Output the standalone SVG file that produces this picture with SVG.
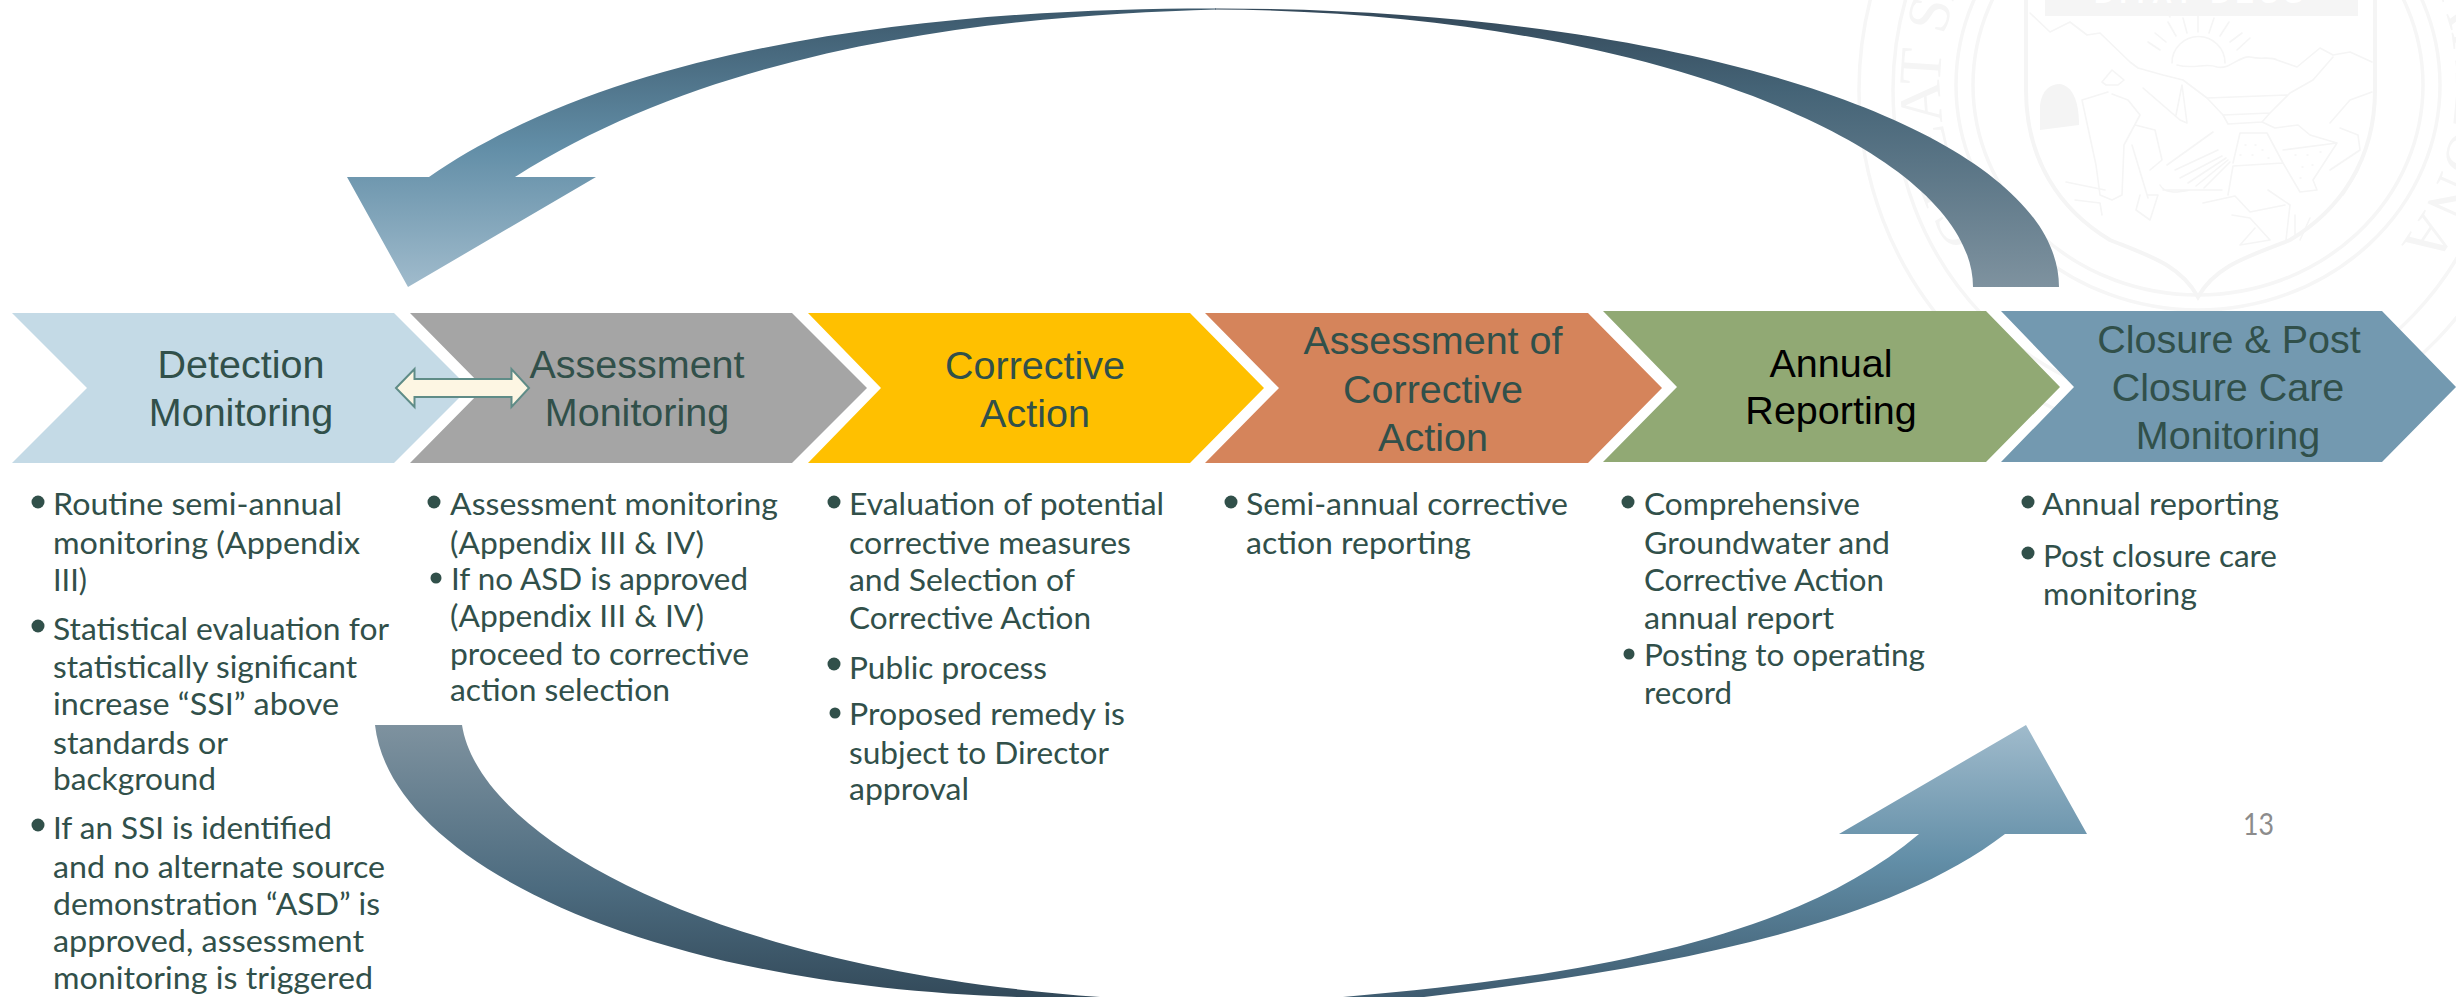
<svg xmlns="http://www.w3.org/2000/svg" width="2456" height="997" viewBox="0 0 2456 997">
<style>
.b{font-family:"Lato","Open Sans",sans-serif;font-size:31px;fill:#31504a}
.l{transform:translate(-1px,1.5px)}
.t{font-family:"Liberation Sans",Arial,sans-serif;font-size:39.5px;fill:#31504a;text-anchor:middle}
.w{fill:none;stroke:#f5f5f5;stroke-width:1.6;stroke-linejoin:round;stroke-linecap:round}
.r{fill:none;stroke:#f6f6f6;stroke-width:3.5}
.d{fill:#31504a}
</style>
<defs>
<linearGradient id="gShaftTop" gradientUnits="userSpaceOnUse" x1="0" y1="8" x2="0" y2="287"><stop offset="0" stop-color="#34495a"/><stop offset="0.3" stop-color="#456477"/><stop offset="1" stop-color="#7e929f"/></linearGradient>
<linearGradient id="gHeadTop" gradientUnits="userSpaceOnUse" x1="0" y1="8" x2="0" y2="287"><stop offset="0" stop-color="#3c586b"/><stop offset="0.5" stop-color="#628ea7"/><stop offset="1" stop-color="#a0bbcc"/></linearGradient>
<linearGradient id="gShaftBot" gradientUnits="userSpaceOnUse" x1="0" y1="725" x2="0" y2="997"><stop offset="0" stop-color="#7e929f"/><stop offset="0.6" stop-color="#4c6b7f"/><stop offset="1" stop-color="#334a5a"/></linearGradient>
<linearGradient id="gHeadBot" gradientUnits="userSpaceOnUse" x1="0" y1="725" x2="0" y2="997"><stop offset="0" stop-color="#a0bbcc"/><stop offset="0.5" stop-color="#628ea7"/><stop offset="1" stop-color="#3f5c70"/></linearGradient>
<clipPath id="wc"><rect x="1800" y="0" width="656" height="465"/></clipPath>
<path id="ringText" d="M1987,233 A258,258 0 1 1 2327,308"/>
</defs>

<g id="watermark" clip-path="url(#wc)">
<ellipse class="r" cx="2198" cy="90" rx="339" ry="352"/>
<ellipse class="r" cx="2198" cy="90" rx="305" ry="318"/>
<ellipse class="r" cx="2198" cy="85" rx="242" ry="225"/>
<ellipse class="r" cx="2198" cy="85" rx="225" ry="210"/>
<text font-family="'Liberation Serif',serif" font-size="60" fill="#f5f5f5"><textPath href="#ringText">GREAT SEAL OF THE STATE OF ARIZONA</textPath></text>
<path d="M2026,0 V90 C2026,160 2060,210 2110,240 C2150,256 2180,265 2198,297 C2216,265 2250,256 2290,240 C2340,210 2375,160 2375,90 V0" fill="none" stroke="#f5f5f5" stroke-width="4"/>
<rect x="2045" y="0" width="313" height="16" fill="#f5f5f5"/>
<text x="2201" y="3" font-family="'Liberation Sans',sans-serif" font-size="28" font-weight="700" fill="#fff" text-anchor="middle" letter-spacing="5">DITAT DEUS</text>
<path d="M2040,130 V105 C2042,90 2050,84 2060,84 C2072,86 2079,100 2079,125 Z" fill="#f4f4f4"/>
<path class="w" d="M2030,13 L2050,32 L2070,22 L2087,35 L2100,33 L2130,62 L2138,68 L2163,75 L2183,80 L2207,98 L2223,115"/>
<path class="w" d="M2177,65 C2195,70 2205,62 2217,67 C2230,70 2240,55 2250,57 C2262,60 2270,56 2277,60 L2297,67 L2320,48 L2333,55 L2350,52 L2372,62"/>
<path class="w" d="M2172,63 A26,26 0 0 1 2225,63"/>
<path class="w" d="M2160,50 L2148,42 M2166,42 L2155,33 M2176,36 L2168,22 M2187,33 L2183,18 M2198,32 V16 M2209,33 L2214,18 M2220,36 L2229,22 M2230,42 L2242,33 M2237,50 L2250,38 M2170,17 L2165,8 M2198,12 V3 M2220,14 L2226,6"/>
<path class="w" d="M2270,113 L2290,93 L2313,80 L2333,57 M2330,123 L2350,100 L2372,92 M2207,98 L2287,95 M2223,115 L2270,113 M2223,115 L2228,124 L2262,122 L2270,113"/>
<path class="w" d="M2233,163 L2240,133 L2267,133 L2283,163 L2233,166 L2228,195 M2283,163 L2300,192 M2283,150 L2337,143 L2313,180 L2317,190 L2300,192 M2262,122 L2275,128 L2298,125 L2310,135 L2337,143"/>
<path class="w" d="M2245,145 h1 M2255,145 h1 M2262,150 h1 M2240,155 h1 M2252,155 h1 M2268,158 h1 M2295,155 h1 M2307,155 h1 M2320,152 h1 M2302,167 h1 M2312,165 h1 M2300,178 h1"/>
<path class="w" d="M2167,165 L2213,132 M2175,170 L2218,150 M2180,178 L2222,156 M2188,183 L2226,158 M2196,186 L2228,160 M2204,188 L2230,162 M2163,190 H2222 M2160,185 C2165,195 2180,192 2190,190"/>
<path class="w" d="M2143,88 L2180,120 L2187,123 L2182,85 L2176,115"/>
<path class="w" d="M2102,82 L2112,70 L2124,80 L2118,85 L2106,85 Z M2108,92 L2082,100 L2096,165 L2100,195 L2112,200 L2122,195 L2124,145 L2140,115 L2128,100 L2112,94 M2135,125 L2155,130 L2162,160 L2150,170 M2132,145 L2148,198 M2140,195 L2136,210 L2150,220 L2158,195 L2148,195"/>
<path class="w" d="M2066,182 L2105,190 M2075,200 L2100,203 L2102,215 M2203,203 L2235,196 L2250,212 L2285,205 M2232,215 L2250,218 L2270,240 L2240,245 L2255,228 M2268,190 L2290,205 L2286,240 M2295,215 V235 M2310,218 L2300,240"/>
<path class="w" d="M2330,170 L2360,150 L2358,135 L2340,128 M2343,195 L2358,170"/>
</g>

<g id="node-detection"><polygon points="12,313 394,313 469,388 394,463 12,463 87,388" fill="#c4dae6"/>
<text class="t" x="241" y="378">Detection</text><text class="t" x="241" y="426">Monitoring</text></g>
<g id="node-assessment"><polygon points="410,313 792,313 867,388 792,463 410,463 484,388" fill="#a5a5a5"/>
<text class="t" x="637" y="378">Assessment</text><text class="t" x="637" y="426">Monitoring</text></g>
<g id="node-corrective"><polygon points="808,313 1190,313 1264,388 1190,463 808,463 881,388" fill="#ffc000"/>
<text class="t" x="1035" y="379">Corrective</text><text class="t" x="1035" y="427">Action</text></g>
<g id="node-assessment-corrective"><polygon points="1205,313 1588,313 1662,388 1588,463 1205,463 1279,388" fill="#d5845b"/>
<text class="t" x="1433" y="354">Assessment of</text><text class="t" x="1433" y="403">Corrective</text><text class="t" x="1433" y="451">Action</text></g>
<g id="node-annual"><polygon points="1603,311 1986,311 2060,387 1986,462 1603,462 1677,387" fill="#91a974"/>
<text class="t" x="1831" y="377" style="fill:#000">Annual</text><text class="t" x="1831" y="424" style="fill:#000">Reporting</text></g>
<g id="node-closure"><polygon points="2001,311 2382,311 2456,387 2382,462 2001,462 2074,387" fill="#7399b0"/>
<text class="t" x="2229" y="353">Closure &amp; Post</text><text class="t" x="2228" y="401">Closure Care</text><text class="t" x="2228" y="449">Monitoring</text></g>

<g id="connectors">
<path id="arrow-top-shaft" d="M2059,287 C2059,133 1692,8 1215,8.5 V9.5 C1650,12 1973,150 1973,287 Z" fill="url(#gShaftTop)"/>
<path id="arrow-top-head" d="M1216,9.5 C1020,15 730,40 515,177 L596,177 L408,287 L347,177 L429,177 C640,30 1000,8 1216,8.5 Z" fill="url(#gHeadTop)"/>
<path id="arrow-bottom-shaft" d="M375,725 L462,725 C480,840 720,970 1100,997 L1017,997 C640,985 390,860 375,725 Z" fill="url(#gShaftBot)"/>
<path id="arrow-bottom-head" d="M1343,997 C1600,975 1800,935 1919,834 L1839,834 L2026,725 L2087,834 L2005,834 C1880,930 1650,970 1424,997 Z" fill="url(#gHeadBot)"/>
<path id="arrow-double" d="M396,388 L414.5,369 V379 H511.5 V369 L529,388 L511.5,407 V397 H414.5 V407 Z" fill="#fdf6e3" stroke="#5f8c87" stroke-width="2"/>
</g>

<g id="list-detection">
<circle class="d" cx="38" cy="502" r="6.5"/><circle class="d" cx="38" cy="626" r="6.5"/><circle class="d" cx="38" cy="825" r="6.5"/>
<g class="l">
<text class="b" x="54" y="513" textLength="289" lengthAdjust="spacingAndGlyphs">Routine semi-annual</text>
<text class="b" x="54" y="552" textLength="307" lengthAdjust="spacingAndGlyphs">monitoring (Appendix</text>
<text class="b" x="54" y="589" textLength="34" lengthAdjust="spacingAndGlyphs">III)</text>
<text class="b" x="54" y="638" textLength="336" lengthAdjust="spacingAndGlyphs">Statistical evaluation for</text>
<text class="b" x="54" y="676" textLength="304" lengthAdjust="spacingAndGlyphs">statistically significant</text>
<text class="b" x="54" y="713" textLength="286" lengthAdjust="spacingAndGlyphs">increase “SSI” above</text>
<text class="b" x="54" y="752" textLength="175" lengthAdjust="spacingAndGlyphs">standards or</text>
<text class="b" x="54" y="788" textLength="163" lengthAdjust="spacingAndGlyphs">background</text>
<text class="b" x="54" y="837" textLength="279" lengthAdjust="spacingAndGlyphs">If an SSI is identified</text>
<text class="b" x="54" y="876" textLength="332" lengthAdjust="spacingAndGlyphs">and no alternate source</text>
<text class="b" x="54" y="913" textLength="327" lengthAdjust="spacingAndGlyphs">demonstration “ASD” is</text>
<text class="b" x="54" y="950" textLength="311" lengthAdjust="spacingAndGlyphs">approved, assessment</text>
<text class="b" x="54" y="987" textLength="320" lengthAdjust="spacingAndGlyphs">monitoring is triggered</text>
</g></g>
<g id="list-assessment">
<circle class="d" cx="434" cy="502" r="6.5"/><circle class="d" cx="436" cy="578" r="5.5"/>
<g class="l">
<text class="b" x="451" y="513" textLength="328" lengthAdjust="spacingAndGlyphs">Assessment monitoring</text>
<text class="b" x="451" y="552" textLength="254" lengthAdjust="spacingAndGlyphs">(Appendix III &amp; IV)</text>
<text class="b" x="452" y="588" textLength="297" lengthAdjust="spacingAndGlyphs">If no ASD is approved</text>
<text class="b" x="451" y="625" textLength="254" lengthAdjust="spacingAndGlyphs">(Appendix III &amp; IV)</text>
<text class="b" x="451" y="663" textLength="299" lengthAdjust="spacingAndGlyphs">proceed to corrective</text>
<text class="b" x="451" y="699" textLength="220" lengthAdjust="spacingAndGlyphs">action selection</text>
</g></g>
<g id="list-corrective">
<circle class="d" cx="834" cy="502" r="6.5"/><circle class="d" cx="834" cy="664" r="6.5"/><circle class="d" cx="835" cy="713" r="5.5"/>
<g class="l">
<text class="b" x="850" y="513" textLength="315" lengthAdjust="spacingAndGlyphs">Evaluation of potential</text>
<text class="b" x="850" y="552" textLength="282" lengthAdjust="spacingAndGlyphs">corrective measures</text>
<text class="b" x="850" y="589" textLength="226" lengthAdjust="spacingAndGlyphs">and Selection of</text>
<text class="b" x="850" y="627" textLength="242" lengthAdjust="spacingAndGlyphs">Corrective Action</text>
<text class="b" x="850" y="677" textLength="198" lengthAdjust="spacingAndGlyphs">Public process</text>
<text class="b" x="850" y="723" textLength="276" lengthAdjust="spacingAndGlyphs">Proposed remedy is</text>
<text class="b" x="850" y="762" textLength="260" lengthAdjust="spacingAndGlyphs">subject to Director</text>
<text class="b" x="850" y="798" textLength="120" lengthAdjust="spacingAndGlyphs">approval</text>
</g></g>
<g id="list-assessment-corrective">
<circle class="d" cx="1231" cy="502" r="6.5"/>
<g class="l">
<text class="b" x="1247" y="513" textLength="322" lengthAdjust="spacingAndGlyphs">Semi-annual corrective</text>
<text class="b" x="1247" y="552" textLength="225" lengthAdjust="spacingAndGlyphs">action reporting</text>
</g></g>
<g id="list-annual">
<circle class="d" cx="1628" cy="502" r="6.5"/><circle class="d" cx="1629" cy="654" r="5.5"/>
<g class="l">
<text class="b" x="1645" y="513" textLength="216" lengthAdjust="spacingAndGlyphs">Comprehensive</text>
<text class="b" x="1645" y="552" textLength="246" lengthAdjust="spacingAndGlyphs">Groundwater and</text>
<text class="b" x="1645" y="589" textLength="240" lengthAdjust="spacingAndGlyphs">Corrective Action</text>
<text class="b" x="1645" y="627" textLength="190" lengthAdjust="spacingAndGlyphs">annual report</text>
<text class="b" x="1645" y="664" textLength="281" lengthAdjust="spacingAndGlyphs">Posting to operating</text>
<text class="b" x="1645" y="702" textLength="88" lengthAdjust="spacingAndGlyphs">record</text>
</g></g>
<g id="list-closure">
<circle class="d" cx="2028" cy="502" r="6.5"/><circle class="d" cx="2028" cy="553" r="6.5"/>
<g class="l">
<text class="b" x="2043" y="513" textLength="237" lengthAdjust="spacingAndGlyphs">Annual reporting</text>
<text class="b" x="2044" y="565" textLength="234" lengthAdjust="spacingAndGlyphs">Post closure care</text>
<text class="b" x="2044" y="603" textLength="154" lengthAdjust="spacingAndGlyphs">monitoring</text>
</g></g>
<text id="page-number" x="2243" y="835" font-family="Lato,'Open Sans',sans-serif" font-size="30" fill="#8c8c8c" textLength="31" lengthAdjust="spacingAndGlyphs">13</text>
</svg>
